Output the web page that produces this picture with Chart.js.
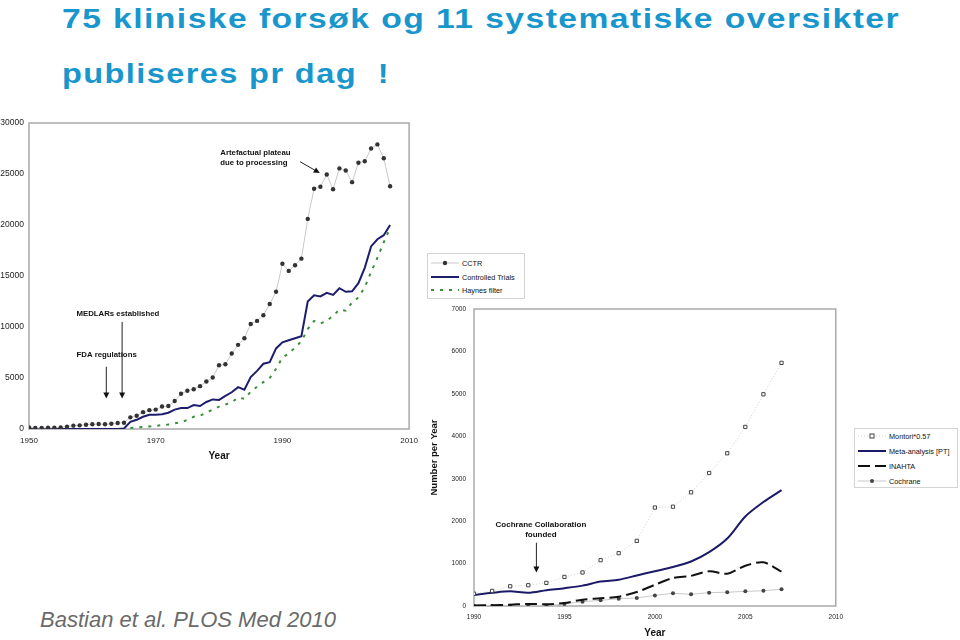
<!DOCTYPE html>
<html>
<head>
<meta charset="utf-8">
<script src="https://cdn.jsdelivr.net/npm/chart.js@4.4.1/dist/chart.umd.min.js"></script>
<style>
  html,body{margin:0;padding:0;}
  body{width:960px;height:640px;background:#fff;position:relative;overflow:hidden;font-family:"Liberation Sans",Arial,sans-serif;}
  .title{position:absolute;left:62px;color:#1996cc;font-weight:bold;font-size:28px;line-height:30px;white-space:pre;letter-spacing:1.2px;transform-origin:0 50%;}
  #t1{top:4px;}
  #t2{top:59px;}
  #src{position:absolute;left:40px;top:608px;font-size:22px;line-height:24px;font-style:italic;color:#6a6a6a;white-space:nowrap;}
  canvas{position:absolute;}
  #c1{left:0;top:110px;}
  #c2{left:420px;top:297px;}
  .legend{position:absolute;border:1px solid #d4d4d4;background:#fff;font-size:7.3px;color:#111;}
  .legend .row{position:absolute;left:0;height:12px;display:flex;align-items:center;white-space:nowrap;}
  .legend svg{display:block;}
  #lg1{left:427px;top:253px;width:96px;height:44px;}
  #lg2{left:854px;top:428px;width:102px;height:58px;}
</style>
</head>
<body>
<div class="title" id="t1">75 kliniske forsøk og 11 systematiske oversikter</div>
<div class="title" id="t2">publiseres pr dag  !</div>
<div id="src">Bastian et al. PLOS Med 2010</div>
<canvas id="c1" width="425" height="360"></canvas>
<canvas id="c2" width="430" height="343"></canvas>
<div class="legend" id="lg1"></div>
<div class="legend" id="lg2"></div>
<script>
// ---------- Chart 1 data (trials per year) ----------
const years1 = [1950,1951,1952,1953,1954,1955,1956,1957,1958,1959,
  1960,1961,1962,1963,1964,1965,1966,1967,1968,1969,
  1970,1971,1972,1973,1974,1975,1976,1977,1978,1979,
  1980,1981,1982,1983,1984,1985,1986,1987,1988,1989,
  1990,1991,1992,1993,1994,1995,1996,1997,1998,1999,
  2000,2001,2002,2003,2004,2005,2006,2007];
const cctr = [160,100,100,120,120,150,230,330,360,420,
  460,490,460,520,590,620,1140,1300,1650,1850,
  1900,2200,2250,2750,3450,3750,3900,4200,4650,5050,
  6250,6350,7400,8250,8900,10300,10600,11150,12250,13450,
  16200,15500,16050,16700,20600,23550,23750,24950,23500,25550,
  25350,24200,26100,26250,27500,27900,26550,23800];
const controlledTrials = [0,0,0,0,0,0,0,0,0,0,
  0,0,0,0,0,50,700,900,1200,1400,
  1400,1450,1600,1900,2050,2050,2350,2250,2650,2900,
  2850,3250,3600,4100,3850,5100,5700,6400,6550,7900,
  8500,8700,8900,9100,12500,13100,13000,13350,13150,13800,
  13450,13500,14300,15800,17900,18600,19000,20000];
const haynesFilter = [null,null,null,null,null,null,null,null,null,null,
  null,null,null,null,null,null,100,150,200,250,
  300,380,450,550,650,900,1200,1300,1600,1900,
  2200,2400,2600,3100,2950,3650,4150,4600,5000,5900,
  7000,7400,8000,8600,9800,10600,10350,10600,11100,11700,
  11600,12400,12900,13900,15400,16800,18300,19700];
const xTicks1 = [1950,1970,1990,2010];
const yTicks1 = [0,5000,10000,15000,20000,25000,30000];

// ---------- Chart 2 data (systematic reviews per year) ----------
const years2 = [1990,1991,1992,1993,1994,1995,1996,1997,1998,1999,
  2000,2001,2002,2003,2004,2005,2006,2007];
const montori = [290,355,465,490,545,685,790,1080,1245,1535,
  2320,2340,2680,3135,3600,4220,4990,5730];
const metaAnalysisPT = [260,310,345,310,370,420,480,575,620,720,
  820,920,1050,1270,1590,2110,2450,2730];
const inahta = [10,20,30,50,40,70,150,180,220,330,
  500,660,710,820,760,950,1030,810];
const cochrane = [0,0,5,5,5,50,100,135,170,190,
  250,300,275,315,325,345,360,395];
const xTicks2 = [1990,1995,2000,2005,2010];
const yTicks2 = [0,1000,2000,3000,4000,5000,6000,7000];

// Annotations (anchored in data coordinates)
const notes1 = [
  {lines:['Artefactual plateau','due to processing'], x:1980.2, y:27050, lineGap:980, align:'left',
   arrow:{x1:1992.8,y1:26200,x2:1995.9,y2:25100}},
  {lines:['MEDLARs established'], x:1957.5, y:11250, align:'left',
   arrow:{x1:1964.7,y1:10500,x2:1964.7,y2:3000}},
  {lines:['FDA regulations'], x:1957.5, y:7300, align:'left',
   arrow:{x1:1962.2,y1:6100,x2:1962.2,y2:3000}}
];
const notes2 = [
  {lines:['Cochrane Collaboration','founded'], x:1993.7, y:1910, lineGap:235, align:'center',
   arrow:{x1:1993.45,y1:1490,x2:1993.45,y2:790}}
];

// ---------- helpers ----------
const FONT = '"Liberation Sans", Arial, sans-serif';
function pts(xs, ys){ return xs.map((x,i)=>({x:x, y:ys[i]})).filter(p=>p.y!==null); }

const framePlugin = {
  id:'frame',
  beforeDatasetsDraw(chart){
    const a = chart.chartArea, c = chart.ctx;
    c.save(); c.strokeStyle = '#a9a9a9'; c.lineWidth = 1.5;
    c.strokeRect(a.left, a.top, a.right-a.left, a.bottom-a.top);
    c.restore();
  }
};
function annotPlugin(notes, fontPx){
  return {
    id:'annot',
    afterDatasetsDraw(chart){
      const c = chart.ctx, xs = chart.scales.x, ys = chart.scales.y;
      c.save();
      c.fillStyle = '#111'; c.strokeStyle = '#222';
      c.font = 'bold ' + fontPx + 'px ' + FONT;
      c.textBaseline = 'middle';
      notes.forEach(n=>{
        c.textAlign = n.align;
        n.lines.forEach((t,i)=>{
          c.fillText(t, xs.getPixelForValue(n.x), ys.getPixelForValue(n.y - i*(n.lineGap||0)));
        });
        const a = n.arrow;
        const x1 = xs.getPixelForValue(a.x1), y1 = ys.getPixelForValue(a.y1);
        const x2 = xs.getPixelForValue(a.x2), y2 = ys.getPixelForValue(a.y2);
        const ang = Math.atan2(y2-y1, x2-x1), L = 6, W = 3;
        c.lineWidth = 1;
        c.beginPath(); c.moveTo(x1,y1); c.lineTo(x2 - Math.cos(ang)*L*0.6, y2 - Math.sin(ang)*L*0.6); c.stroke();
        c.beginPath();
        c.moveTo(x2,y2);
        c.lineTo(x2 - Math.cos(ang)*L - Math.sin(ang)*W, y2 - Math.sin(ang)*L + Math.cos(ang)*W);
        c.lineTo(x2 - Math.cos(ang)*L + Math.sin(ang)*W, y2 - Math.sin(ang)*L - Math.cos(ang)*W);
        c.closePath(); c.fill();
      });
      c.restore();
    }
  };
}
function axisX(min, max, ticks, tickFont, tickPad, titleBottom, height){
  return {
    type:'linear', min:min, max:max,
    afterBuildTicks(s){ s.ticks = ticks.map(v=>({value:v})); },
    grid:{display:false, drawTicks:false}, border:{display:false},
    ticks:{font:{family:FONT, size:tickFont}, color:'#222', padding:tickPad, maxRotation:0, autoSkip:false, callback:v=>String(v)},
    title:{display:true, text:'Year', color:'#111', font:{family:FONT, size:10, weight:'bold'}, padding:{top:0, bottom:titleBottom}},
    afterFit(s){ s.height = height; }
  };
}
function axisY(min, max, ticks, tickFont, tickPad, width, title){
  const ax = {
    min:min, max:max,
    afterBuildTicks(s){ s.ticks = ticks.map(v=>({value:v})); },
    grid:{display:false, drawTicks:false}, border:{display:false},
    ticks:{font:{family:FONT, size:tickFont}, color:'#222', padding:tickPad, autoSkip:false, callback:v=>String(v)},
    afterFit(s){ s.width = width; }
  };
  if (title) ax.title = {display:true, text:title, color:'#111', font:{family:FONT, size:9.5, weight:'bold'}, padding:{top:9, bottom:0}};
  return ax;
}

// ---------- Chart 1 ----------
const chart1 = new Chart(document.getElementById('c1'), {
  type:'line',
  data:{datasets:[
    {label:'CCTR', data:pts(years1,cctr), borderColor:'#c9c9c9', borderWidth:1,
     pointRadius:2.2, pointBackgroundColor:'#333', pointBorderColor:'#333', pointBorderWidth:0, tension:0},
    {label:'Controlled Trials', data:pts(years1,controlledTrials), borderColor:'#1d1d6e', borderWidth:2,
     pointRadius:0, tension:0},
    {label:'Haynes filter', data:pts(years1,haynesFilter), borderColor:'#3b8f3b', borderWidth:2,
     borderDash:[3,6], pointRadius:0, tension:0}
  ]},
  options:{
    responsive:false, animation:false, events:[],
    layout:{padding:{top:13, right:13, left:0, bottom:0}},
    plugins:{legend:{display:false}, tooltip:{enabled:false}},
    scales:{
      x: axisX(1950, 2010, xTicks1, 8, 7, 8, 41),
      y: axisY(0, 30000, yTicks1, 8.5, 5, 29, null)
    }
  },
  plugins:[framePlugin, annotPlugin(notes1, 7.8)]
});

// ---------- Chart 2 ----------
const chart2 = new Chart(document.getElementById('c2'), {
  type:'line',
  data:{datasets:[
    {label:'Montori*0.57', data:pts(years2,montori), borderColor:'#cfcfcf', borderWidth:1, borderDash:[1,2],
     pointStyle:'rect', pointRadius:2.3, pointBackgroundColor:'#fff', pointBorderColor:'#444', pointBorderWidth:1, tension:0},
    {label:'Meta-analysis [PT]', data:pts(years2,metaAnalysisPT), borderColor:'#1a1a66', borderWidth:2,
     pointRadius:0, tension:0.3},
    {label:'INAHTA', data:pts(years2,inahta), borderColor:'#111', borderWidth:2, borderDash:[12,5],
     pointRadius:0, tension:0.3},
    {label:'Cochrane', data:pts(years2,cochrane), borderColor:'#c9c9c9', borderWidth:1,
     pointRadius:2, pointBackgroundColor:'#444', pointBorderColor:'#444', pointBorderWidth:0, tension:0}
  ]},
  options:{
    responsive:false, animation:false, events:[],
    layout:{padding:{top:12, right:11, left:0, bottom:0}},
    plugins:{legend:{display:false}, tooltip:{enabled:false}},
    scales:{
      x: axisX(1990, 2010, xTicks2, 6.5, 7, 1, 34),
      y: axisY(0, 7000, yTicks2, 6.5, 8, 54, 'Number per Year')
    }
  },
  plugins:[framePlugin, annotPlugin(notes2, 8)]
});

// ---------- HTML legends built from the datasets ----------
function sample(ds){
  const w = 30, h = 10, y = 5;
  let s = '<svg width="'+w+'" height="'+h+'">';
  const dash = ds.borderDash ? ' stroke-dasharray="'+ds.borderDash.join(',')+'"' : '';
  s += '<line x1="1" y1="'+y+'" x2="'+(w-1)+'" y2="'+y+'" stroke="'+ds.borderColor+'" stroke-width="'+ds.borderWidth+'"'+dash+'/>';
  if (ds.pointRadius > 0){
    if (ds.pointStyle === 'rect'){
      s += '<rect x="'+(w/2-2)+'" y="'+(y-2)+'" width="4" height="4" fill="#fff" stroke="'+ds.pointBorderColor+'" stroke-width="1"/>';
    } else {
      s += '<circle cx="'+(w/2)+'" cy="'+y+'" r="'+ds.pointRadius+'" fill="'+ds.pointBackgroundColor+'"/>';
    }
  }
  return s + '</svg>';
}
function buildLegend(el, chart, rowTops){
  chart.data.datasets.forEach((ds,i)=>{
    const r = document.createElement('div');
    r.className = 'row';
    r.style.top = rowTops[i] + 'px';
    r.style.left = '2px';
    r.innerHTML = sample(ds) + '<span style="margin-left:2px">' + ds.label + '</span>';
    el.appendChild(r);
  });
}
buildLegend(document.getElementById('lg1'), chart1, [3, 17, 30]);
buildLegend(document.getElementById('lg2'), chart2, [1, 16, 31, 46]);

// ---------- stretch the title lines to the slide widths ----------
function fit(el, target){
  const w = el.getBoundingClientRect().width;
  el.style.transform = 'scaleX(' + (target / w) + ')';
}
fit(document.getElementById('t1'), 838);
fit(document.getElementById('t2'), 328);
</script>
</body>
</html>
